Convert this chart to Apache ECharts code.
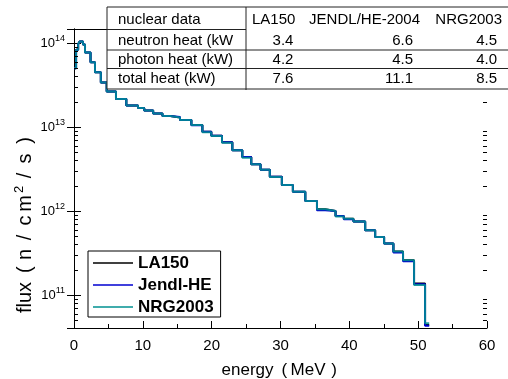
<!DOCTYPE html>
<html><head><meta charset="utf-8">
<script src="https://cdn.jsdelivr.net/npm/echarts@6/dist/echarts.min.js"></script>
<style>html,body{margin:0;padding:0;background:#fff}#c{width:508px;height:379px}</style>
</head><body><div id="c"></div>
<script>
// ---- data ----
const BIN_EDGES = [0.0, 0.3, 0.6, 0.8, 1.3, 1.6, 2.4, 3.05, 3.9, 4.75, 6.1, 7.6, 9.3, 10.2, 11.5,
  12.85, 14.0, 15.4, 17.05, 18.65, 19.95, 21.5, 23.0, 24.45, 25.75, 27.1, 28.45, 30.2, 31.8, 33.6,
  35.3, 36.5, 38.0, 39.2, 40.6, 42.3, 43.75, 45.05, 46.4, 47.8, 49.4, 51.0, 51.6];
const LA150 = [5.0e13, 8.3e13, 9.7e13, 1.04e14, 9.6e13, 7.7e13, 5.9e13, 4.5e13, 3.4e13, 2.65e13,
  2.15e13, 1.80e13, 1.68e13, 1.57e13, 1.45e13, 1.35e13, 1.30e13, 1.21e13, 1.06e13, 8.8e12,
  7.9e12, 6.6e12, 5.3e12, 4.4e12, 3.6e12, 3.1e12, 2.56e12, 2.04e12, 1.70e12, 1.32e12,
  1.05e12, 1.0e12, 8.7e11, 8.1e11, 7.5e11, 5.9e11, 4.9e11, 4.1e11, 3.3e11, 2.6e11, 1.37e11, 4.4e10];
const JENDL_HE = [5.0e13, 8.3e13, 9.7e13, 1.04e14, 9.6e13, 7.7e13, 5.9e13, 4.5e13, 3.4e13, 2.65e13,
  2.15e13, 1.80e13, 1.68e13, 1.57e13, 1.45e13, 1.35e13, 1.32e13, 1.21e13, 1.05e13, 8.8e12,
  7.9e12, 6.6e12, 5.3e12, 4.4e12, 3.6e12, 3.1e12, 2.56e12, 2.04e12, 1.70e12, 1.32e12,
  1.02e12, 1.0e12, 8.7e11, 8.0e11, 7.5e11, 5.9e11, 4.9e11, 4.1e11, 3.2e11, 2.52e11, 1.34e11, 4.3e10];
const NRG2003 = [5.0e13, 8.3e13, 9.7e13, 1.04e14, 9.6e13, 7.7e13, 5.9e13, 4.5e13, 3.4e13, 2.65e13,
  2.15e13, 1.80e13, 1.68e13, 1.57e13, 1.45e13, 1.35e13, 1.30e13, 1.21e13, 1.06e13, 8.7e12,
  7.8e12, 6.5e12, 5.3e12, 4.3e12, 3.6e12, 3.1e12, 2.54e12, 2.04e12, 1.70e12, 1.32e12,
  1.05e12, 1.0e12, 8.6e11, 8.1e11, 7.5e11, 5.9e11, 4.9e11, 4.1e11, 3.3e11, 2.6e11, 1.32e11, 4.6e10];
const SERIES_NAMES = ['LA150', 'Jendl-HE', 'NRG2003'];
const SERIES_COLORS = ['#000000', '#0000d0', '#009090'];
const X_RANGE = [0, 60];
const X_INTERVAL = 10;
const Y_RANGE = [4.05e10, 1.47e14];
const MINOR_MULTS = [2, 3, 4, 5, 6, 7, 8, 9];
const MINOR_DECADES = [10, 11, 12, 13, 14];
const TABLE_HEADER = ['nuclear data', 'LA150', 'JENDL/HE-2004', 'NRG2003'];
const TABLE_ROWS = [
  ['neutron heat (kW', '3.4', '6.6', '4.5'],
  ['photon heat (kW)', '4.2', '4.5', '4.0'],
  ['total heat (kW)', '7.6', '11.1', '8.5']
];

const FONT = '"Liberation Sans", Arial, sans-serif';

function toSteps(vals) {
  const d = vals.map((v, i) => [BIN_EDGES[i], v]);
  d.push([BIN_EDGES[vals.length], vals[vals.length - 1]]);
  return d;
}
const minorY = [];
MINOR_DECADES.forEach(k => MINOR_MULTS.forEach(m => {
  const v = m * Math.pow(10, k);
  if (v > Y_RANGE[0] && v < Y_RANGE[1]) minorY.push([X_RANGE[0], v]);
}));

const chart = echarts.init(document.getElementById('c'), null, {renderer: 'canvas'});

function yLabel(v) {
  const e = Math.round(Math.log10(v));
  if (Math.abs(Math.log10(v) - e) > 1e-6) return '';
  return '{b|10}{s|' + e + '}';
}

const axisCommon = {
  axisLine: {show: true, lineStyle: {color: '#000', width: 1}},
  axisTick: {show: true, inside: true, length: 7, lineStyle: {color: '#000', width: 1}},
  splitLine: {show: false}
};

const lineSeries = [LA150, JENDL_HE, NRG2003].map((vals, i) => ({
  name: SERIES_NAMES[i],
  type: 'line',
  step: 'end',
  symbol: 'none',
  data: toSteps(vals),
  lineStyle: {color: SERIES_COLORS[i], width: 2, opacity: i === 2 ? 0.85 : 1},
  itemStyle: {color: SERIES_COLORS[i]},
  z: 2 + i,
  animation: false
}));

// table graphics
const T = {x0: 107, x1: 509, xDiv: 246, yTop: 7, yHead: 29.5, y1: 50, y2: 68.5, yBot: 89};
const rowY = [40.5, 59.5, 79];
const tableEls = [];
tableEls.push({type: 'rect', shape: {x: T.x0, y: T.yTop, width: T.x1 - T.x0, height: T.yBot - T.yTop},
  style: {fill: '#fff', stroke: null}, z: 100});
const lineSt = {stroke: '#222', lineWidth: 1};
[[T.x0, T.yTop, T.x1, T.yTop], [T.x0, T.yBot, T.x1, T.yBot], [T.x0, T.y1, T.x1, T.y1],
 [T.x0, T.y2, T.x1, T.y2], [T.x0, T.yHead, T.xDiv, T.yHead], [T.x0, T.yTop, T.x0, T.yBot],
 [T.xDiv, T.yTop, T.xDiv, T.yBot + 1]].forEach(s => tableEls.push({type: 'line',
  shape: {x1: s[0], y1: s[1], x2: s[2], y2: s[3]}, style: lineSt, z: 101}));
function txt(x, y, s, align) {
  return {type: 'text', x: x, y: y, z: 102,
    style: {text: s, font: '15px ' + FONT, fill: '#000', align: align, verticalAlign: 'middle'}};
}
tableEls.push(txt(118, 20, TABLE_HEADER[0], 'left'));
tableEls.push(txt(252, 20, TABLE_HEADER[1], 'left'));
tableEls.push(txt(420, 20, TABLE_HEADER[2], 'right'));
tableEls.push(txt(502, 20, TABLE_HEADER[3], 'right'));
TABLE_ROWS.forEach((r, i) => {
  tableEls.push(txt(118, rowY[i], r[0], 'left'));
  tableEls.push(txt(283, rowY[i], r[1], 'center'));
  tableEls.push(txt(413, rowY[i], r[2], 'right'));
  tableEls.push(txt(497, rowY[i], r[3], 'right'));
});

// wide glyph cells for the axis titles
const YC = 19, YF = 20;
const yTitleRich = {
  a: {fontSize: YF, fontFamily: FONT, color: '#000'},
  p: {fontSize: YF, fontFamily: FONT, color: '#000', width: YC, align: 'right'},
  w: {fontSize: YF, fontFamily: FONT, color: '#000', width: YC - 2, align: 'center'},
  q: {fontSize: YF, fontFamily: FONT, color: '#000', width: YC, align: 'left'},
  s: {fontSize: 13, fontFamily: FONT, color: '#000', width: 11, align: 'center', padding: [0, 0, 11, 0]}
};
const XC = 17, XF = 17;
const xTitleRich = {
  a: {fontSize: XF, fontFamily: FONT, color: '#000'},
  p: {fontSize: XF, fontFamily: FONT, color: '#000', width: XC, align: 'right'},
  q: {fontSize: XF, fontFamily: FONT, color: '#000', width: XC, align: 'left'}
};

chart.setOption({
  animation: false,
  backgroundColor: '#fff',
  grid: {left: 74, right: 21, top: 29, bottom: 51, containLabel: false},
  xAxis: [
    Object.assign({}, axisCommon, {type: 'value', position: 'bottom', min: X_RANGE[0], max: X_RANGE[1],
      interval: X_INTERVAL,
      minorTick: {show: true, splitNumber: 2, length: 4, lineStyle: {color: '#000', width: 1}},
      axisLabel: {color: '#000', fontSize: 15, fontFamily: FONT, margin: 10}}),
    Object.assign({}, axisCommon, {type: 'value', position: 'top', min: X_RANGE[0], max: X_RANGE[1],
      interval: X_INTERVAL,
      minorTick: {show: true, splitNumber: 2, length: 4, lineStyle: {color: '#000', width: 1}},
      axisLabel: {show: false}})
  ],
  yAxis: [
    Object.assign({}, axisCommon, {type: 'log', logBase: 10, position: 'left', min: Y_RANGE[0], max: Y_RANGE[1],
      axisLabel: {formatter: yLabel, showMinLabel: false, showMaxLabel: false, margin: 9,
        rich: {b: {fontSize: 13, fontFamily: FONT, color: '#000'},
               s: {fontSize: 9, fontFamily: FONT, color: '#000', padding: [0, 0, 9, 0]}}}}),
    Object.assign({}, axisCommon, {type: 'log', logBase: 10, position: 'right', min: Y_RANGE[0], max: Y_RANGE[1],
      axisLabel: {show: false}})
  ],
  legend: {
    data: SERIES_NAMES,
    orient: 'vertical',
    left: 88, top: 251,
    icon: 'rect',
    itemWidth: 40, itemHeight: 1.5, itemGap: 2,
    padding: [2, 7, 0, 5],
    borderColor: '#000', borderWidth: 1, backgroundColor: '#fff',
    textStyle: {fontSize: 17, lineHeight: 20, fontWeight: 'bold', fontFamily: FONT, color: '#000'}
  },
  series: lineSeries.concat([{
    type: 'custom',
    silent: true,
    clip: false,
    data: minorY,
    z: 10,
    renderItem: function (params, api) {
      const v = api.value(1);
      const pL = api.coord([X_RANGE[0], v]);
      const pR = api.coord([X_RANGE[1], v]);
      const y = Math.round(pL[1]) + 0.5;
      const st = {stroke: '#000', lineWidth: 1};
      return {type: 'group', children: [
        {type: 'line', shape: {x1: pL[0], y1: y, x2: pL[0] + 4, y2: y}, style: st},
        {type: 'line', shape: {x1: pR[0] - 4, y1: y, x2: pR[0], y2: y}, style: st}
      ]};
    }
  }]),
  graphic: [
    {type: 'text', x: 282, y: 370, z: 50,
      style: {text: '{a|energy}{p| (}{a|MeV}{q|)}', align: 'center', verticalAlign: 'middle', rich: xTitleRich}},
    {type: 'text', x: 25, y: 222, rotation: Math.PI / 2, z: 50,
      style: {text: '{a|flux}{p| (}{w|n}{w|/}{w|c}{w|m}{s|2}{w|/}{w|s}{q|)}',
        align: 'center', verticalAlign: 'middle', rich: yTitleRich}}
  ].concat(tableEls)
});
</script></body></html>
